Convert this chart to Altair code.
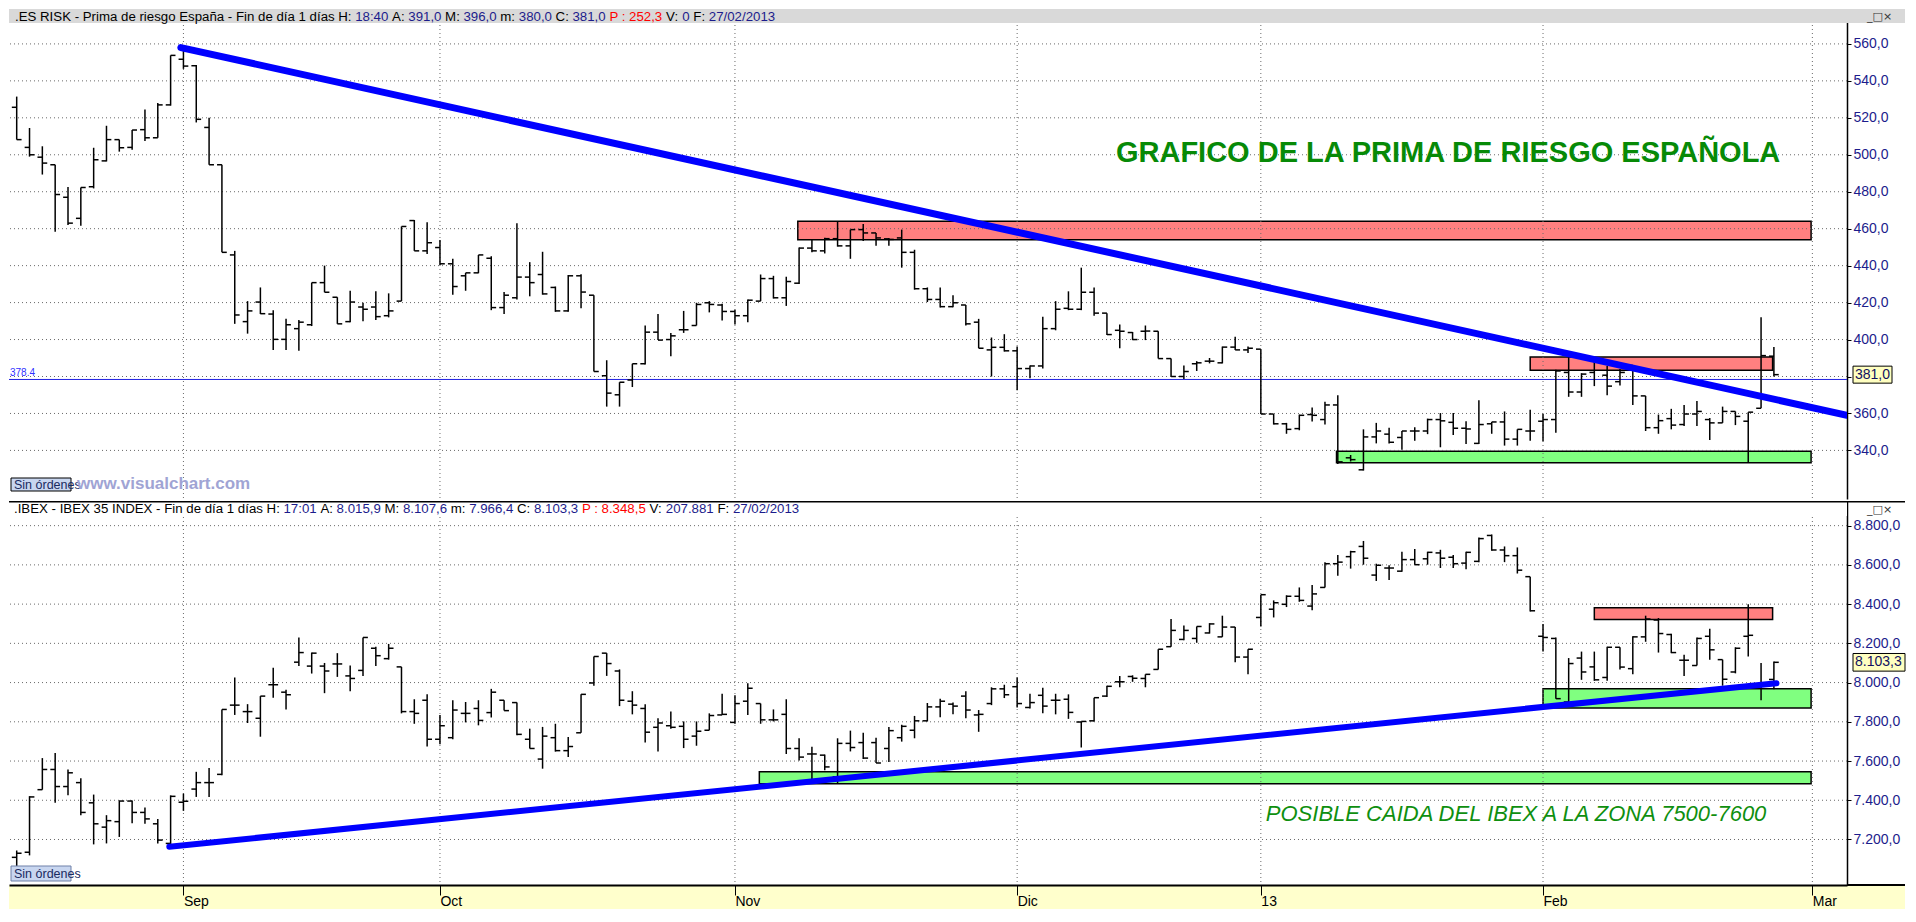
import altair as alt
import pandas as pd

# ---------------- data ----------------
risk_open = [525.7, 504.0, 498.7, 494.6, 477.0, 465.6, 482.7, 496.7, 508.2, 504.0,
             513.6, 509.2, 527.0, 551.7, 548.2, 514.8, 494.6, 445.8, 409.7, 420.3,
             413.8, 400.1, 405.9, 408.0, 430.8, 422.9, 409.7, 417.6, 417.6, 412.9,
             420.8, 464.4, 448.0, 449.8, 441.0, 434.5, 436.1, 444.0, 417.3, 422.6,
             433.8, 435.2, 428.2, 415.5, 434.5, 424.0, 380.4, 370.1, 378.1, 386.9,
             404.0, 400.0, 405.3, 407.6, 419.9, 418.7, 415.2, 412.9, 420.8, 433.0,
             422.6, 430.5, 449.5, 448.0, 454.6, 450.7, 459.5, 457.7, 454.5, 455.0,
             447.2, 427.5, 421.7, 417.8, 418.7, 409.4, 394.4, 395.8, 393.9, 384.3,
             385.7, 405.9, 416.9, 416.4, 425.6, 414.3, 405.0, 403.8, 404.5, 404.5,
             389.7, 380.0, 386.9, 388.3, 387.4, 395.9, 394.4, 394.8, 359.7, 354.4,
             351.8, 359.4, 356.7, 364.6, 336.0, 329.5, 347.3, 348.8, 347.0, 350.5,
             350.5, 356.7, 355.2, 352.0, 343.8, 354.4, 355.4, 346.1, 350.5, 355.8,
             356.7, 382.2, 371.6, 382.2, 380.7, 377.2, 386.0, 369.5, 352.3, 357.2,
             354.0, 359.7, 356.7, 354.9, 361.1, 355.8, 362.8, 391.0]
risk_high = [531.5, 514.5, 504.6, 494.6, 482.6, 482.3, 503.8, 515.7, 508.2, 513.4,
             524.5, 528.0, 553.8, 557.0, 548.6, 520.0, 494.6, 448.0, 420.8, 428.2,
             415.9, 411.2, 410.6, 430.8, 440.0, 422.9, 426.4, 419.9, 426.1, 425.0,
             461.2, 464.7, 463.5, 453.9, 443.7, 436.1, 445.8, 445.1, 425.7, 463.0,
             441.9, 447.5, 428.7, 434.9, 435.4, 424.0, 388.8, 376.9, 386.9, 407.6,
             413.8, 403.6, 415.5, 419.9, 420.8, 419.4, 416.1, 421.7, 435.2, 434.5,
             434.0, 449.8, 454.2, 455.1, 463.9, 459.5, 462.6, 457.7, 455.0, 459.5,
             448.6, 428.2, 428.2, 424.0, 418.7, 411.2, 401.1, 402.9, 396.2, 386.0,
             412.4, 420.8, 426.1, 438.9, 428.2, 414.3, 408.2, 404.1, 407.6, 404.5,
             389.7, 386.0, 388.3, 390.0, 396.2, 401.5, 396.2, 394.8, 359.7, 354.9,
             359.4, 363.2, 366.3, 369.8, 337.5, 351.4, 354.9, 352.3, 350.5, 352.6,
             357.2, 360.2, 360.2, 355.8, 367.2, 355.4, 361.1, 351.4, 362.0, 359.7,
             383.6, 390.6, 381.8, 388.3, 385.7, 384.0, 386.0, 369.5, 359.4, 362.5,
             364.6, 366.7, 357.5, 363.7, 361.1, 360.7, 412.0, 396.0]
risk_low = [508.2, 499.0, 489.3, 458.4, 462.0, 461.6, 481.8, 496.4, 501.7, 502.7,
            507.5, 509.2, 526.6, 546.5, 517.5, 494.6, 447.2, 408.5, 403.2, 413.8,
            394.4, 394.4, 393.9, 407.3, 425.6, 408.5, 409.4, 409.9, 410.6, 412.0,
            420.8, 448.0, 446.3, 440.4, 424.3, 426.4, 435.9, 415.9, 413.8, 421.7,
            423.4, 424.3, 415.0, 415.0, 417.0, 382.7, 363.7, 363.7, 374.3, 386.5,
            399.7, 391.0, 403.6, 407.6, 414.7, 410.3, 408.2, 409.4, 420.8, 422.2,
            418.2, 430.0, 447.2, 446.6, 450.3, 443.7, 453.3, 450.7, 450.7, 438.9,
            427.0, 420.3, 417.3, 417.5, 407.6, 395.3, 380.0, 393.5, 372.5, 379.0,
            384.3, 405.0, 415.9, 415.9, 412.9, 402.4, 395.3, 399.7, 399.7, 389.7,
            380.0, 378.6, 383.0, 387.1, 387.1, 394.4, 392.7, 359.7, 354.0, 349.0,
            350.9, 355.6, 354.0, 332.6, 334.0, 329.1, 343.8, 343.8, 340.3, 345.2,
            348.8, 341.7, 348.4, 343.5, 343.5, 349.0, 342.6, 342.6, 345.2, 345.0,
            349.6, 369.0, 369.0, 374.8, 369.8, 375.1, 364.6, 350.5, 349.0, 351.4,
            353.2, 353.2, 345.6, 354.9, 353.7, 333.3, 362.8, 380.0]
risk_close = [508.2, 500.0, 495.5, 478.5, 463.0, 482.3, 497.3, 508.2, 503.8, 513.4,
              509.2, 527.0, 553.8, 548.0, 519.2, 494.6, 447.2, 413.3, 415.5, 414.0,
              400.1, 408.0, 409.4, 430.8, 425.6, 408.5, 420.3, 416.4, 412.4, 415.5,
              461.2, 448.0, 452.4, 441.0, 428.7, 436.1, 445.8, 417.3, 424.0, 433.8,
              430.8, 424.7, 415.5, 434.5, 425.7, 382.7, 371.0, 376.9, 386.9, 404.0,
              399.7, 402.0, 405.3, 419.0, 419.0, 415.2, 412.9, 421.3, 433.0, 422.6,
              431.4, 449.5, 448.0, 454.6, 450.7, 459.5, 457.7, 455.0, 454.2, 447.2,
              427.5, 421.7, 417.8, 419.9, 408.5, 395.3, 395.8, 393.9, 384.3, 385.7,
              405.9, 416.4, 416.4, 425.6, 414.3, 402.7, 404.5, 400.0, 404.6, 389.7,
              380.0, 382.7, 387.4, 388.3, 395.9, 394.4, 395.3, 359.7, 354.4, 351.4,
              359.0, 359.0, 364.6, 333.8, 335.0, 347.3, 350.5, 344.4, 350.5, 350.5,
              356.7, 356.0, 352.0, 351.6, 354.0, 355.4, 346.1, 351.4, 350.5, 356.7,
              383.0, 371.6, 381.3, 388.3, 374.8, 382.2, 369.5, 352.3, 356.1, 353.7,
              359.7, 361.1, 354.9, 361.1, 358.4, 360.7, 391.3, 381.0]

ibex_open = [7109, 7135, 7454, 7557, 7470, 7490, 7387, 7263, 7291, 7396,
             7338, 7280, 7180, 7390, 7457, 7490, 7532, 7885, 7852, 7818,
             7989, 7951, 8104, 8084, 8084, 8095, 8034, 8062, 8175, 8122,
             8080, 7852, 7910, 7711, 7719, 7843, 7868, 7847, 7910, 7898,
             7711, 7610, 7719, 7653, 7744, 7998, 8150, 8059, 7905, 7868,
             7772, 7780, 7777, 7727, 7757, 7835, 7797, 7905, 7893, 7810,
             7838, 7664, 7636, 7630, 7520, 7690, 7694, 7694, 7664, 7719,
             7757, 7805, 7876, 7890, 7931, 7835, 7893, 7968, 7979, 7873,
             7935, 7910, 7915, 7799, 7805, 7931, 8004, 8031, 8021, 8067,
             8183, 8220, 8225, 8253, 8233, 8283, 8130, 8332, 8374, 8399,
             8440, 8390, 8485, 8606, 8642, 8694, 8548, 8584, 8568, 8627,
             8631, 8661, 8639, 8609, 8618, 8750, 8676, 8647, 8540, 8236,
             8225, 7901, 8125, 8080, 8026, 8180, 8071, 8233, 8319, 8245,
             8114, 8087, 8236, 8117, 8054, 8236, 7988, 8015.9]
ibex_high = [7144, 7421, 7615, 7641, 7557, 7512, 7429, 7324, 7399, 7399,
             7363, 7305, 7425, 7434, 7545, 7565, 7863, 8026, 7890, 7931,
             8075, 7964, 8230, 8153, 8100, 8150, 8087, 8230, 8183, 8197,
             8080, 7915, 7940, 7835, 7910, 7901, 7910, 7968, 7910, 7898,
             7765, 7774, 7790, 7722, 7940, 8133, 8150, 8067, 7956, 7890,
             7818, 7852, 7802, 7802, 7843, 7943, 7935, 7996, 7893, 7863,
             7915, 7716, 7673, 7633, 7716, 7755, 7744, 7719, 7774, 7785,
             7830, 7896, 7918, 7898, 7956, 7860, 7976, 7989, 8026, 7943,
             7973, 7943, 7940, 7802, 7923, 7984, 8034, 8037, 8042, 8170,
             8324, 8291, 8286, 8303, 8341, 8283, 8170, 8448, 8419, 8445,
             8485, 8498, 8614, 8651, 8672, 8722, 8606, 8598, 8667, 8681,
             8667, 8677, 8651, 8667, 8739, 8755, 8694, 8689, 8540, 8299,
             8230, 8125, 8158, 8158, 8183, 8180, 8236, 8341, 8329, 8249,
             8142, 8230, 8274, 8117, 8180, 8399, 8100, 8107.6]
ibex_low = [7064, 7119, 7454, 7387, 7426, 7324, 7175, 7180, 7213, 7283,
            7280, 7180, 7163, 7346, 7417, 7417, 7528, 7835, 7794, 7724,
            7923, 7863, 8084, 8046, 7946, 8029, 7956, 8034, 8084, 8117,
            7843, 7790, 7674, 7686, 7711, 7797, 7782, 7822, 7857, 7732,
            7664, 7561, 7648, 7620, 7744, 7984, 8034, 7880, 7838, 7694,
            7649, 7764, 7666, 7678, 7757, 7835, 7790, 7835, 7790, 7802,
            7636, 7603, 7487, 7553, 7487, 7649, 7611, 7590, 7595, 7699,
            7716, 7802, 7823, 7838, 7818, 7749, 7885, 7921, 7873, 7868,
            7843, 7838, 7815, 7669, 7802, 7926, 7976, 8004, 7976, 8067,
            8183, 8216, 8203, 8250, 8233, 8104, 8042, 8286, 8332, 8385,
            8412, 8369, 8485, 8545, 8581, 8601, 8518, 8523, 8565, 8601,
            8601, 8584, 8584, 8578, 8614, 8672, 8614, 8556, 8362, 8158,
            7918, 7898, 8014, 8009, 8009, 8067, 8042, 8208, 8153, 8150,
            8034, 8087, 8117, 7984, 8047, 8133, 7910, 7966.4]
ibex_close = [7130, 7417, 7557, 7470, 7540, 7338, 7280, 7296, 7396, 7338,
              7305, 7197, 7420, 7395, 7490, 7490, 7863, 7885, 7852, 7931,
              7989, 7938, 8153, 8150, 8059, 8095, 8021, 8230, 8137, 8175,
              7852, 7843, 7711, 7780, 7860, 7843, 7807, 7951, 7857, 7736,
              7664, 7727, 7653, 7674, 7940, 8133, 8097, 7910, 7885, 7747,
              7794, 7772, 7711, 7752, 7832, 7838, 7893, 7971, 7810, 7810,
              7664, 7620, 7636, 7570, 7690, 7669, 7615, 7590, 7755, 7777,
              7805, 7876, 7905, 7880, 7860, 7838, 7968, 7938, 7893, 7898,
              7880, 7910, 7848, 7802, 7923, 7981, 8004, 8022, 8042, 8170,
              8266, 8266, 8286, 8299, 8283, 8130, 8170, 8448, 8407, 8440,
              8419, 8452, 8606, 8614, 8667, 8634, 8598, 8584, 8627, 8601,
              8664, 8634, 8606, 8664, 8734, 8676, 8647, 8573, 8366, 8230,
              7918, 8097, 8054, 8014, 8180, 8079, 8233, 8324, 8250, 8153,
              8114, 8225, 8167, 8017, 8175, 8241, 7988, 8103.3]

month_labels = ["Sep", "Oct", "Nov", "Dic", "13", "Feb", "Mar"]
month_index = [14, 34, 57, 79, 98, 120, 141]
risk_ticks = [340, 360, 380, 400, 420, 440, 460, 480, 500, 520, 540, 560]
ibex_ticks = [7200, 7400, 7600, 7800, 8000, 8200, 8400, 8600, 8800]

risk_trend_x = [13.8, 143.7]
risk_trend_y = [558.0, 359.0]
ibex_trend_x = [12.9, 138.2]
ibex_trend_y = [7163.0, 7997.0]

risk_zone_x1 = [61.9, 119.0, 103.9]
risk_zone_x2 = [140.9, 137.9, 140.9]
risk_zone_lo = [454.0, 383.4, 333.3]
risk_zone_hi = [464.0, 390.6, 339.6]
risk_zone_kind = ["res", "res", "sup"]
ibex_zone_x1 = [58.9, 120.0, 124.0]
ibex_zone_x2 = [140.9, 140.9, 137.9]
ibex_zone_lo = [7484.0, 7871.0, 8322.0]
ibex_zone_hi = [7545.0, 7968.0, 8382.0]
ibex_zone_kind = ["sup", "sup", "res"]

risk_ref_level = 378.4
risk_title = "GRAFICO DE LA PRIMA DE RIESGO ESPAÑOLA"
risk_title_pos = [112.6, 501.0]
ibex_note = "POSIBLE CAIDA DEL IBEX A LA ZONA 7500-7600"
ibex_note_pos = [117.9, 7330.0]

top_header = [(".ES RISK - Prima de riesgo España - Fin de día 1 días H:", "k"), (" 18:40", "b"),
              (" A:", "k"), (" 391,0", "b"), (" M:", "k"), (" 396,0", "b"), (" m:", "k"),
              (" 380,0", "b"), (" C:", "k"), (" 381,0", "b"), (" P : 252,3", "r"),
              (" V:", "k"), (" 0", "b"), (" F:", "k"), (" 27/02/2013", "b")]
bot_header = [(".IBEX - IBEX 35 INDEX - Fin de día 1 días H:", "k"), (" 17:01", "b"),
              (" A:", "k"), (" 8.015,9", "b"), (" M:", "k"), (" 8.107,6", "b"), (" m:", "k"),
              (" 7.966,4", "b"), (" C:", "k"), (" 8.103,3", "b"), (" P : 8.348,5", "r"),
              (" V:", "k"), (" 207.881", "b"), (" F:", "k"), (" 27/02/2013", "b")]

# ---------------- layout / style ----------------
FONT = "Liberation Sans"
NAVY = "#1c1c8c"
COLS = {"k": "#000000", "b": NAVY, "r": "#ff0000"}
W, AX = 1838, 58
H1, H2, STRIP = 490, 384, 24
XDOM = [0.4, 143.7]
Y1DOM = [313.7, 578.9]
Y2DOM = [6968.0, 8925.7]
GRID = dict(color="#6a6a6a", strokeDash=[1, 3], strokeWidth=1)

AW = {' ': 278, '.': 278, ',': 278, ':': 278, '-': 333, '/': 278,
      'A': 667, 'B': 667, 'C': 722, 'D': 722, 'E': 667, 'F': 611, 'G': 778, 'H': 722, 'I': 278,
      'K': 667, 'L': 556, 'M': 833, 'N': 722, 'O': 778, 'P': 667, 'R': 722, 'S': 667, 'T': 611,
      'V': 667, 'X': 667, 'Z': 611, 'a': 556, 'c': 500, 'd': 556, 'e': 556, 'g': 556, 'i': 222,
      'l': 222, 'm': 833, 'n': 556, 'o': 556, 'p': 556, 'r': 333, 's': 500, 'í': 278, 'ñ': 556,
      'ó': 556, 'u': 556, 'v': 500}


def tw(s, fs):
    return sum(AW.get(ch, 556) for ch in s) * fs / 1000.0


HFS = round(760.0 / tw("".join(t for t, _ in top_header), 1.0), 2)
ONE = pd.DataFrame({"k": [0]})


def header_layers(segs, x0, y):
    out, x = [], x0
    for t, c in segs:
        lead = len(t) - len(t.lstrip(" "))
        out.append(alt.Chart(ONE).mark_text(align="left", baseline="middle", font=FONT,
                                            fontSize=HFS, color=COLS[c])
                   .encode(x=alt.value(round(x + tw(" " * lead, HFS), 1)), y=alt.value(y),
                           text=alt.value(t.strip())))
        x += tw(t, HFS)
    return out


def px_rect(x1, x2, y1, y2, **kw):
    return alt.Chart(ONE).mark_rect(**kw).encode(x=alt.value(x1), x2=alt.value(x2),
                                                 y=alt.value(y1), y2=alt.value(y2))


def px_text(x, y, t, **kw):
    return alt.Chart(ONE).mark_text(**kw).encode(x=alt.value(x), y=alt.value(y), text=alt.value(t))


def ohlc_df(o, h, l, c):
    idx = list(range(1, len(o) + 1))
    return pd.DataFrame({"i": idx, "xl": [i - 0.38 for i in idx], "xr": [i + 0.38 for i in idx],
                         "open": o, "high": h, "low": l, "close": c})


xs = alt.Scale(domain=XDOM, nice=False, zero=False)
ys1 = alt.Scale(domain=Y1DOM, nice=False, zero=False)
ys2 = alt.Scale(domain=Y2DOM, nice=False, zero=False)

yax_common = dict(orient="right", grid=False, title=None, domainColor="black", domainWidth=1.5,
                  tickColor="black", tickSize=4, labelColor=NAVY, labelFont=FONT, labelFontSize=14,
                  labelPadding=2, zindex=0, labelOverlap=False)
yax1 = alt.Axis(values=risk_ticks, labelExpr="replace(format(datum.value, '.1f'), '.', ',')",
                **yax_common)
yax2 = alt.Axis(values=ibex_ticks,
                labelExpr="replace(replace(replace(format(datum.value, ',.1f'), ',', 'T'), '.', ','), 'T', '.')",
                **yax_common)
label_expr = " : ".join(f"datum.value == {i} ? '{m}'" for i, m in zip(month_index, month_labels)) + " : ''"
xax2 = alt.Axis(values=month_index, labelExpr=label_expr, grid=False, title=None, domainColor="black",
                domainWidth=2, tickColor="black", tickSize=10, labelAlign="left", labelBaseline="top",
                labelPadding=-1, labelFont=FONT, labelFontSize=14, labelColor="black",
                labelFlush=False, labelOverlap=False, zindex=1)


def panel(o, h, l, c, ys, yax, xax, ticks, trend_x, trend_y, zx1, zx2, zlo, zhi, zkind, lw):
    df = ohlc_df(o, h, l, c)
    X = lambda f: alt.X(f, scale=xs, axis=xax)
    Y = lambda f: alt.Y(f, scale=ys, axis=yax)
    zones = alt.Chart(pd.DataFrame({"x1": zx1, "x2": zx2, "lo": zlo, "hi": zhi, "kind": zkind})) \
        .mark_rect(stroke="black", strokeWidth=1.5) \
        .encode(x=X("x1:Q"), x2="x2:Q", y=Y("lo:Q"), y2="hi:Q",
                fill=alt.Fill("kind:N", scale=alt.Scale(domain=["res", "sup"], range=["#ff8080", "#80ff80"]),
                              legend=None))
    hgrid = alt.Chart(pd.DataFrame({"v": ticks})).mark_rule(**GRID).encode(y=Y("v:Q"))
    vgrid = alt.Chart(pd.DataFrame({"m": month_index})).mark_rule(**GRID).encode(x=X("m:Q"))
    base = alt.Chart(df)
    vb = base.mark_rule(color="black", strokeWidth=1.5).encode(x=X("i:Q"), y=Y("low:Q"), y2="high:Q")
    lt = base.mark_rule(color="black", strokeWidth=1.5).encode(x=X("xl:Q"), x2="i:Q", y=Y("open:Q"))
    rt = base.mark_rule(color="black", strokeWidth=1.5).encode(x=X("i:Q"), x2="xr:Q", y=Y("close:Q"))
    trend = alt.Chart(pd.DataFrame({"x": trend_x, "y": trend_y})) \
        .mark_line(color="#0000ff", strokeWidth=lw, strokeCap="round", clip=True) \
        .encode(x=X("x:Q"), y=Y("y:Q"))
    return [zones, hgrid, vgrid], [vb, lt, rt, trend], X, Y


# ---------------- top panel ----------------
under1, over1, X1, Y1 = panel(risk_open, risk_high, risk_low, risk_close, ys1, yax1, None, risk_ticks,
                              risk_trend_x, risk_trend_y, risk_zone_x1, risk_zone_x2, risk_zone_lo,
                              risk_zone_hi, risk_zone_kind, 7)
ref_df = pd.DataFrame({"v": [risk_ref_level], "t": [f"{risk_ref_level}"]})
ref_line = alt.Chart(ref_df).mark_rule(color="#2020e0", strokeWidth=1).encode(y=Y1("v:Q"))
ref_lab = alt.Chart(ref_df).mark_text(align="left", baseline="bottom", dy=-1, font=FONT, fontSize=10,
                                      color="#3030ff").encode(x=alt.value(1), y=Y1("v:Q"), text="t:N")
title1 = alt.Chart(pd.DataFrame({"x": [risk_title_pos[0]], "y": [risk_title_pos[1]], "t": [risk_title]})) \
    .mark_text(font=FONT, fontSize=29, fontWeight="bold", color="#078a07", align="center", baseline="middle") \
    .encode(x=X1("x:Q"), y=Y1("y:Q"), text="t:N")
last1 = risk_close[-1]
last1_df = pd.DataFrame({"lo": [last1 - 4.6], "hi": [last1 + 4.6], "v": [last1],
                         "t": [f"{last1:.1f}".replace(".", ",")]})
last1_box = alt.Chart(last1_df).mark_rect(fill="#ffffc0", stroke="black", strokeWidth=1) \
    .encode(x=alt.value(W + 6), x2=alt.value(W + 45), y=Y1("lo:Q"), y2="hi:Q")
last1_txt = alt.Chart(last1_df).mark_text(align="left", baseline="middle", font=FONT, fontSize=14,
                                          color="#101060").encode(x=alt.value(W + 8), y=Y1("v:Q"), text="t:N")

top_layers = under1 + [ref_line] + over1 + [
    title1, ref_lab,
    px_rect(2, 62, H1 - 21, H1 - 8, fill="#c8d6f0", stroke="black", strokeWidth=1),
    px_text(5, H1 - 14.5, "Sin órdenes", align="left", baseline="middle", font=FONT, fontSize=12.5,
            color="#1a2a60"),
    px_text(68, H1 - 15, "www.visualchart.com", align="left", baseline="middle", font=FONT, fontSize=17,
            fontWeight="bold", color="#a0a4d4"),
    last1_box, last1_txt,
    px_rect(0, W + AX, 0, 14, fill="#d9d9d9"),
    px_text(W + 20, 8, "_□×", align="left", baseline="middle", font="DejaVu Sans", fontSize=11, color="#333333"),
] + header_layers(top_header, 6, 7.5)

top = alt.layer(*top_layers).properties(width=W, height=H1)

# ---------------- bottom panel ----------------
under2, over2, X2, Y2 = panel(ibex_open, ibex_high, ibex_low, ibex_close, ys2, yax2, xax2, ibex_ticks,
                              ibex_trend_x, ibex_trend_y, ibex_zone_x1, ibex_zone_x2, ibex_zone_lo,
                              ibex_zone_hi, ibex_zone_kind, 6)
note2 = alt.Chart(pd.DataFrame({"x": [ibex_note_pos[0]], "y": [ibex_note_pos[1]], "t": [ibex_note]})) \
    .mark_text(font=FONT, fontSize=22, fontStyle="italic", color="#0f8f0f", align="center", baseline="middle") \
    .encode(x=X2("x:Q"), y=Y2("y:Q"), text="t:N")
last2 = ibex_close[-1]
last2_df = pd.DataFrame({"lo": [last2 - 45], "hi": [last2 + 45], "v": [last2],
                         "t": ["{:,.1f}".format(last2).replace(",", "T").replace(".", ",").replace("T", ".")]})
last2_box = alt.Chart(last2_df).mark_rect(fill="#ffffc0", stroke="black", strokeWidth=1) \
    .encode(x=alt.value(W + 6), x2=alt.value(W + AX), y=Y2("lo:Q"), y2="hi:Q")
last2_txt = alt.Chart(last2_df).mark_text(align="left", baseline="middle", font=FONT, fontSize=14,
                                          color="#101060").encode(x=alt.value(W + 8), y=Y2("v:Q"), text="t:N")

bottom_layers = [px_rect(0, W + AX, H2, H2 + STRIP, fill="#ffffcc")] + under2 + over2 + [
    note2,
    px_rect(2, 62, H2 - 19, H2 - 4, fill="#c8d6f0", stroke="#6f80a8", strokeWidth=1),
    px_text(5, H2 - 11.5, "Sin órdenes", align="left", baseline="middle", font=FONT, fontSize=12.5,
            color="#1a2a60"),
    last2_box, last2_txt,
    px_rect(0, W, 0, 15, fill="white"),
    alt.Chart(ONE).mark_rule(color="black", strokeWidth=1.5).encode(
        x=alt.value(0), x2=alt.value(W + AX), y=alt.value(0.75)),
    alt.Chart(ONE).mark_rule(color="black", strokeWidth=2).encode(
        x=alt.value(W), x2=alt.value(W + AX), y=alt.value(H2)),
    px_text(W + 20, 9, "_□×", align="left", baseline="middle", font="DejaVu Sans", fontSize=11, color="#333333"),
] + header_layers(bot_header, 5, 8)

bottom = alt.layer(*bottom_layers).properties(width=W, height=H2)

chart = alt.vconcat(top, bottom, spacing=0).properties(padding=0, background="white") \
    .configure_view(stroke=None)

chart.save("out.html", embed_options={"renderer": "svg", "actions": False})
